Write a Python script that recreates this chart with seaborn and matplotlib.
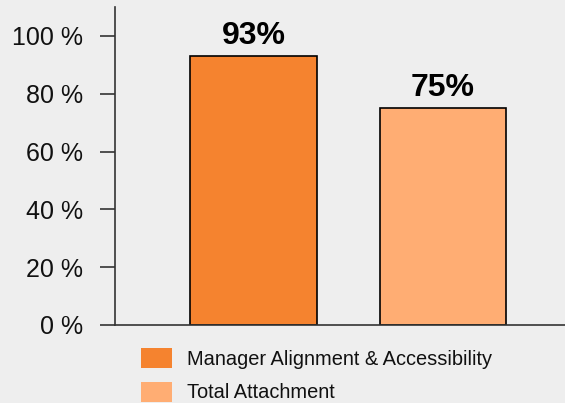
import numpy as np
import matplotlib
matplotlib.use("Agg")
import matplotlib.pyplot as plt
import matplotlib.patches as mpatches
import seaborn as sns

categories = ["Manager Alignment & Accessibility", "Total Attachment"]
values = [93, 75]
colors = ["#f5832f", "#ffad73"]
yticks = [0, 20, 40, 60, 80, 100]

sns.set_style("white")
plt.rcParams["font.family"] = ["Liberation Sans", "DejaVu Sans"]
bg = "#eeeeee"

fig = plt.figure(figsize=(5.65, 4.03), dpi=100, facecolor=bg)
ax = fig.add_axes([115 / 565, 78 / 403, 450 / 565, 318 / 403], facecolor=bg)

sns.barplot(x=categories, y=values, hue=categories, palette=colors,
            edgecolor="black", linewidth=1.2, width=0.67, legend=False,
            saturation=1, ax=ax)

for cont, v in zip(ax.containers, values):
    ax.bar_label(cont, labels=[f"{v}%"], padding=4, fontsize=23,
                 fontweight="bold", color="black")

ax.set_xlim(-0.731, 1.644)
ax.set_ylim(0, 110)
ax.set_yticks(yticks)
ax.set_yticklabels([f"{t} %" for t in yticks], fontsize=18, color="#111111")
ax.set_xticks([])
ax.set_xlabel("")
ax.set_ylabel("")
ax.tick_params(axis="y", direction="out", length=10.8, width=1.2,
               color="#333333", pad=12, left=True)
for s in ["top", "right"]:
    ax.spines[s].set_visible(False)
for s in ["left", "bottom"]:
    ax.spines[s].set_color("#333333")
    ax.spines[s].set_linewidth(1.2)

handles = [mpatches.Patch(facecolor=c, edgecolor="none") for c in colors]
fig.legend(handles, categories, loc="upper left",
           bbox_to_anchor=(141 / 565, 1 - 348 / 403), frameon=False,
           fontsize=14.4, handlelength=1.55, handleheight=1.15,
           handletextpad=0.75, labelspacing=0.65, borderpad=0,
           borderaxespad=0, labelcolor="#111111")

fig.savefig("out.png", dpi=100, facecolor=bg)
